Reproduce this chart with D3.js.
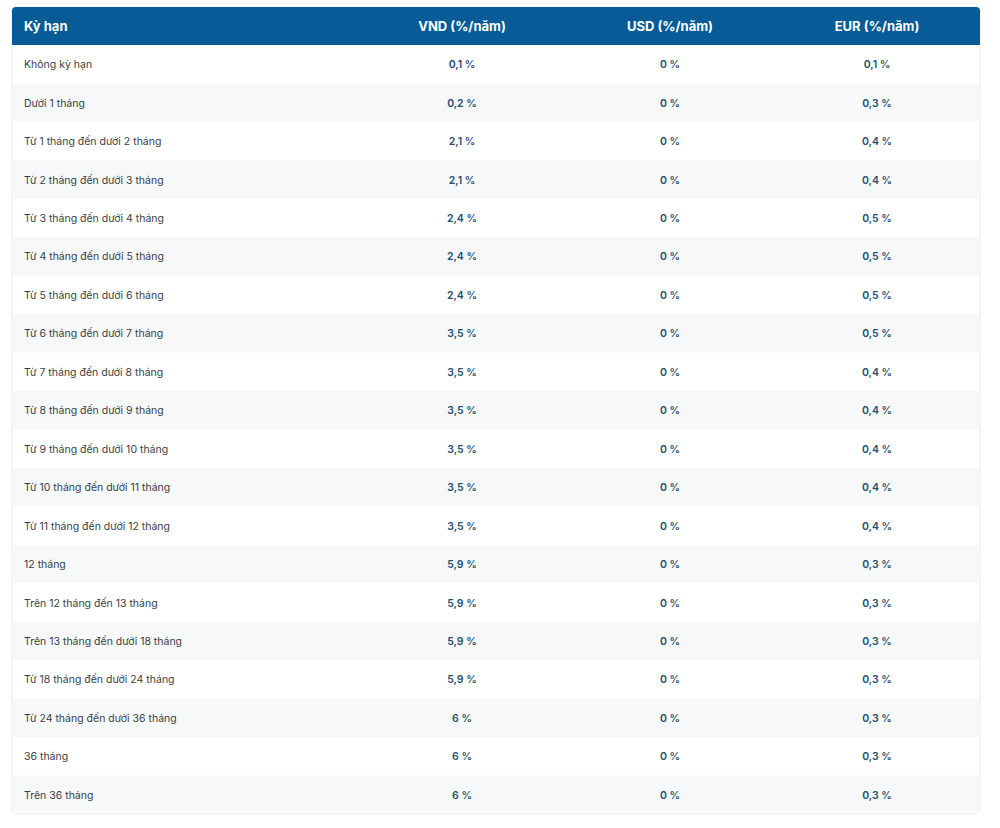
<!DOCTYPE html>
<html><head><meta charset="utf-8">
<script src="https://cdn.jsdelivr.net/npm/d3@7"></script>
<style>body{margin:0;background:#fff;font-family:Inter,"Noto Sans",sans-serif}</style>
</head><body><svg id="t" width="1000" height="828"></svg>
<script>
var terms = ['Không kỳ hạn','Dưới 1 tháng','Từ 1 tháng đến dưới 2 tháng','Từ 2 tháng đến dưới 3 tháng','Từ 3 tháng đến dưới 4 tháng','Từ 4 tháng đến dưới 5 tháng','Từ 5 tháng đến dưới 6 tháng','Từ 6 tháng đến dưới 7 tháng','Từ 7 tháng đến dưới 8 tháng','Từ 8 tháng đến dưới 9 tháng','Từ 9 tháng đến dưới 10 tháng','Từ 10 tháng đến dưới 11 tháng','Từ 11 tháng đến dưới 12 tháng','12 tháng','Trên 12 tháng đến 13 tháng','Trên 13 tháng đến dưới 18 tháng','Từ 18 tháng đến dưới 24 tháng','Từ 24 tháng đến dưới 36 tháng','36 tháng','Trên 36 tháng'];
var vnd = [0.1,0.2,2.1,2.1,2.4,2.4,2.4,3.5,3.5,3.5,3.5,3.5,3.5,5.9,5.9,5.9,5.9,6,6,6];
var usd = [0,0,0,0,0,0,0,0,0,0,0,0,0,0,0,0,0,0,0,0];
var eur = [0.1,0.3,0.4,0.4,0.5,0.5,0.5,0.5,0.4,0.4,0.4,0.4,0.4,0.3,0.3,0.3,0.3,0.3,0.3,0.3];
var headers = ['Kỳ hạn','VND (%/năm)','USD (%/năm)','EUR (%/năm)'];

var svg = d3.select('#t');
var left = 12, right = 980, tableTop = 7, headH = 38, bottom = 814;
var y = d3.scaleBand().domain(d3.range(terms.length)).range([tableTop + headH, bottom]);
var colX = [24, 462, 670, 877];
var fmt = function(v){ return String(v).replace('.', ',') + ' %'; };

// outer card
svg.append('rect').attr('x', left).attr('y', tableTop).attr('width', right-left).attr('height', bottom-tableTop)
  .attr('rx', 4).attr('fill', '#fff').attr('stroke', '#e6e9ee');
// header
svg.append('path').attr('fill', '#075b96')
  .attr('d', `M${left},${tableTop+headH} V${tableTop+4} Q${left},${tableTop} ${left+4},${tableTop} H${right-4} Q${right},${tableTop} ${right},${tableTop+4} V${tableTop+headH} Z`);
svg.selectAll('.h').data(headers).enter().append('text')
  .attr('x', (d,i) => colX[i]).attr('y', tableTop + headH/2 + 5)
  .attr('text-anchor', (d,i) => i ? 'middle' : 'start')
  .attr('fill', '#fff').attr('font-size', 13).attr('font-weight', 700).text(d => d);

var rows = svg.selectAll('.r').data(terms).enter().append('g')
  .attr('transform', (d,i) => `translate(0,${y(i)})`);
rows.append('rect').attr('x', left+1).attr('width', right-left-2).attr('height', y.bandwidth())
  .attr('fill', (d,i) => i % 2 ? '#f6f8fa' : '#fff');
rows.append('text').attr('x', colX[0]).attr('y', y.bandwidth()/2 + 4)
  .attr('font-size', 10.5).attr('fill', '#3a3f45').text(d => d);
[vnd, usd, eur].forEach(function(arr, k){
  rows.append('text').attr('x', colX[k+1]).attr('y', y.bandwidth()/2 + 4)
    .attr('text-anchor', 'middle').attr('font-size', 10.5).attr('font-weight', 600)
    .attr('fill', '#24506e').text((d,i) => fmt(arr[i]));
});
</script></body></html>
